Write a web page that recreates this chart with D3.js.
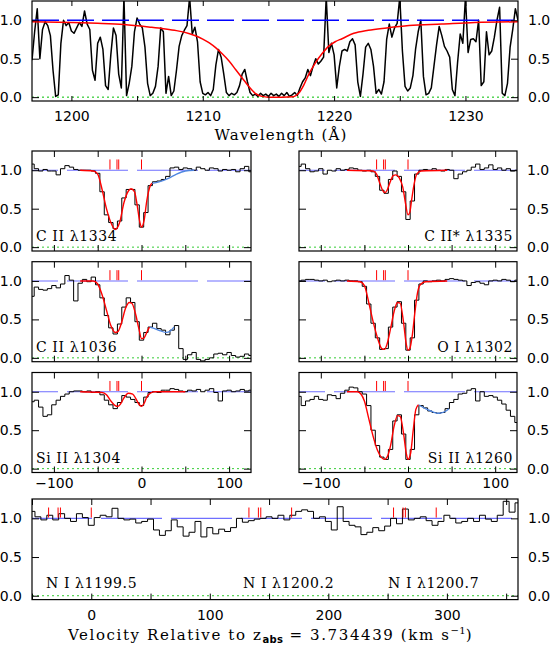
<!DOCTYPE html>
<html>
<head>
<meta charset="utf-8">
<script src="https://cdn.jsdelivr.net/npm/d3@7"></script>
<style>
body { margin: 0; background: #fff; }
</style>
</head>
<body>
<div id="canvas"></div>
<script>
// ---- Lyman alpha region (top panel) ----
var lyaStart = 1197.0, lyaStep = 0.2;
var lyaFlux = [
    0.48, 0.85, 1.15, 0.50, 0.88, 0.98, 0.93, 0.80, 0.35, 0.01,
    0.03, 0.70, 1.00, 0.93, 0.97, 0.86, 0.83, 0.90, 0.97, 0.92,
    1.12, 0.95, 0.88, 0.35, 0.22, 0.70, 0.78, 0.62, 0.15, 0.10,
    0.55, 0.90, 0.80, 0.30, 0.12, 1.30, 0.02, 0.18, 0.40, 0.85,
    1.03, 0.95, 0.90, 0.65, 0.18, 0.02, 0.05, 0.14, 0.40, 0.90,
    0.85, 0.05, 0.27, 0.02, 0.08, 0.35, 0.66, 0.80, 0.87, 0.93,
    1.30, 0.82, 0.91, 0.72, 0.20, 0.05, 0.03, 0.06, 0.02, 0.10,
    0.42, 0.62, 0.52, 0.30, 0.06, 0.02, 0.05, 0.03, 0.06, 0.15,
    0.30, 0.36, 0.20, 0.06, 0.02, 0.04, 0.01, 0.05, 0.02, 0.04,
    0.01, 0.05, 0.02, 0.04, 0.01, 0.05, 0.02, 0.06, 0.01, 0.03,
    0.06, 0.02, 0.12, 0.20, 0.25, 0.36, 0.28, 0.40, 0.50, 0.43,
    0.47, 0.52, 1.30, 0.58, 0.70, 0.55, 0.12, 0.40, 0.60, 0.62,
    0.60, 0.72, 0.76, 0.68, 0.20, 0.01, 0.30, 0.65, 0.70, 0.62,
    0.40, 0.05, 0.10, 0.04, 0.20, 0.75, 0.95, 0.78, 0.90, 0.96,
    1.30, 0.60, 0.14, 0.08, 0.12, 0.28, 0.62, 0.85, 1.00, 0.27,
    0.03, 0.05, 0.12, 0.40, 0.68, 0.92, 0.80, 0.66, 0.60, 0.52,
    0.10, 0.02, 0.45, 0.82, 0.70, 1.30, 0.58, 0.75, 0.76, 0.72,
    1.00, 0.15, 0.20, 0.85, 0.55, 0.60, 0.78, 1.00, 1.17, 0.05,
    0.02, 0.18, 0.65, 0.88, 1.15, 1.00
];
// damped Lya model
var dlaWave = [1197, 1200, 1202, 1204, 1206, 1207, 1208, 1209, 1209.5, 1210, 1210.5, 1211, 1211.5,
    1212, 1212.5, 1213, 1213.5, 1214, 1214.5, 1215, 1216, 1216.9, 1217.3, 1217.7, 1218.05, 1218.55,
    1219.06, 1219.57, 1220.08, 1220.6, 1221.5, 1222.6, 1224, 1225.7, 1228.2, 1230.7, 1234];
var dlaFlux = [0.98, 0.97, 0.96, 0.944, 0.91, 0.89, 0.865, 0.825, 0.795, 0.755, 0.705, 0.64, 0.56,
    0.47, 0.36, 0.25, 0.14, 0.05, 0.01, 0.0, 0.0, 0.005, 0.05, 0.16, 0.29, 0.44,
    0.56, 0.66, 0.72, 0.76, 0.83, 0.87, 0.90, 0.93, 0.95, 0.97, 0.98];
var lyaTicks = [1200, 1205, 1210, 1215, 1220, 1225, 1230];

// ---- metal lines, velocity bins from -125 to 125 km/s ----
var velStart = -125, velStep = 5;
var c2_1334Flux = [
    1.08, 1.02, 0.99, 1.01, 0.99, 0.99, 0.94, 1.02, 1.06, 1.04,
    1.01, 1.00, 1.00, 1.00, 0.99, 0.96, 0.72, 0.42, 0.32, 0.24,
    0.34, 0.64, 0.75, 0.75, 0.55, 0.26, 0.45, 0.80, 0.85, 0.86,
    0.88, 0.92, 1.03, 1.04, 1.01, 1.03, 1.02, 1.00, 1.04, 1.02,
    1.00, 1.03, 1.02, 0.99, 1.01, 1.00, 1.01, 0.98, 1.02, 1.05,
    0.98];
var c2s_1335Flux = [
    1.05, 1.08, 1.02, 0.98, 0.99, 1.02, 0.95, 1.00, 0.99, 1.02,
    1.00, 1.01, 1.03, 1.02, 1.00, 0.99, 1.00, 0.98, 0.92, 0.74,
    0.70, 0.88, 0.99, 0.92, 0.72, 0.36, 0.60, 0.95, 1.00, 1.01,
    1.00, 1.02, 1.00, 0.99, 1.01, 1.00, 0.89, 0.95, 0.98, 1.00,
    1.04, 1.08, 1.01, 1.03, 1.07, 1.01, 1.03, 1.00, 1.02, 0.99,
    1.00];
var c2_1036Flux = [
    0.80, 0.92, 0.89, 0.88, 0.90, 0.94, 0.91, 0.96, 1.07, 1.01,
    0.74, 0.97, 1.02, 0.99, 1.05, 0.95, 0.78, 0.55, 0.39, 0.31,
    0.44, 0.66, 0.78, 0.72, 0.47, 0.23, 0.33, 0.40, 0.45, 0.38,
    0.36, 0.30, 0.36, 0.42, 0.12, -0.02, 0.04, 0.07, -0.02, -0.04,
    -0.02, 0.00, 0.05, 0.06, 0.04, 0.07, 0.03, 0.01, 0.02, 0.05,
    0.03];
var o1_1302Flux = [
    1.00, 1.01, 1.02, 1.02, 1.01, 1.00, 1.01, 0.99, 1.00, 1.01,
    1.00, 1.01, 1.00, 1.00, 0.99, 0.93, 0.70, 0.45, 0.26, 0.11,
    0.12, 0.40, 0.66, 0.73, 0.45, 0.10, 0.26, 0.75, 0.96, 1.00,
    0.99, 1.00, 1.01, 1.00, 1.02, 1.03, 1.02, 1.01, 1.00, 0.94,
    0.98, 0.99, 0.97, 0.95, 1.00, 1.01, 1.00, 1.02, 1.01, 0.99,
    1.01];
var si2_1304Flux = [
    0.87, 0.89, 0.80, 0.68, 0.70, 0.83, 0.89, 0.94, 0.97, 1.00,
    1.01, 1.01, 1.00, 1.01, 0.99, 1.00, 0.96, 0.89, 0.83, 0.78,
    0.86, 0.95, 0.93, 0.90, 0.86, 0.82, 0.93, 0.99, 1.00, 0.99,
    1.02, 1.02, 1.04, 1.03, 1.01, 1.00, 1.02, 1.01, 1.03, 1.00,
    1.02, 1.04, 0.99, 0.88, 1.01, 1.02, 1.00, 1.01, 1.03, 1.01,
    1.02];
var si2_1260Flux = [
    0.94, 0.82, 0.88, 0.90, 0.94, 0.90, 0.89, 0.96, 0.95, 0.91,
    0.98, 1.02, 1.06, 1.05, 1.00, 0.97, 0.82, 0.50, 0.30, 0.15,
    0.12, 0.25, 0.62, 0.70, 0.45, 0.12, 0.25, 0.70, 0.82, 0.79,
    0.75, 0.73, 0.72, 0.73, 0.78, 0.86, 0.90, 0.97, 0.98, 1.02,
    1.04, 0.88, 1.00, 0.94, 0.95, 0.93, 0.89, 0.84, 0.76, 0.68,
    0.60];

// Voigt fits (red) and blends (light blue)
var c2_1334FitV = [-70, -55, -50, -45, -40, -35, -30, -25, -20, -15, -12, -8, -5, -2, 0, 3, 6, 10, 12];
var c2_1334FitF = [1.0, 0.99, 0.95, 0.75, 0.50, 0.32, 0.23, 0.32, 0.58, 0.73, 0.76, 0.72, 0.55, 0.33, 0.26, 0.35, 0.60, 0.80, 0.83];
var c2_1334BlendV = [12, 20, 30, 40, 50, 60];
var c2_1334BlendF = [0.83, 0.85, 0.89, 0.95, 0.99, 1.0];

var c2s_1335FitV = [-70, -40, -36, -32, -28, -26, -24, -20, -17, -14, -10, -6, -3, 0, 2, 4, 7, 10, 15, 45];
var c2s_1335FitF = [1.0, 0.99, 0.95, 0.82, 0.72, 0.71, 0.74, 0.86, 0.93, 0.94, 0.90, 0.78, 0.58, 0.42, 0.45, 0.60, 0.82, 0.95, 0.99, 1.0];

var c2_1036FitV = [-70, -55, -50, -45, -40, -35, -30, -27, -23, -18, -14, -11, -7, -3, 0, 3, 6, 9];
var c2_1036FitF = [1.0, 1.0, 0.96, 0.82, 0.62, 0.42, 0.33, 0.34, 0.45, 0.65, 0.72, 0.71, 0.58, 0.38, 0.25, 0.26, 0.33, 0.40];
var c2_1036BlendV = [9, 15, 22, 28, 33, 37];
var c2_1036BlendF = [0.40, 0.38, 0.35, 0.33, 0.35, 0.40];

var o1_1302FitV = [-70, -55, -50, -45, -40, -35, -30, -27, -24, -20, -16, -12, -9, -5, -2, 0, 2, 5, 8, 11, 14, 20, 45];
var o1_1302FitF = [1.0, 0.99, 0.94, 0.72, 0.47, 0.26, 0.12, 0.11, 0.18, 0.38, 0.60, 0.72, 0.71, 0.45, 0.18, 0.10, 0.12, 0.30, 0.60, 0.85, 0.95, 0.99, 1.0];

var si2_1304FitV = [-70, -45, -40, -35, -30, -27, -24, -20, -15, -10, -6, -3, 0, 3, 6, 10, 15, 50];
var si2_1304FitF = [1.0, 0.99, 0.96, 0.88, 0.82, 0.81, 0.84, 0.92, 0.98, 0.97, 0.90, 0.84, 0.81, 0.85, 0.93, 0.98, 1.0, 1.0];

var si2_1260FitV = [-70, -58, -54, -50, -45, -40, -35, -30, -27, -24, -20, -16, -12, -9, -5, -2, 0, 3, 6, 9, 12];
var si2_1260FitF = [1.0, 1.0, 0.97, 0.88, 0.65, 0.42, 0.24, 0.14, 0.12, 0.15, 0.30, 0.55, 0.69, 0.68, 0.45, 0.20, 0.12, 0.20, 0.50, 0.77, 0.83];
var si2_1260BlendV = [12, 20, 28, 35, 42, 47];
var si2_1260BlendF = [0.83, 0.78, 0.74, 0.72, 0.74, 0.78];

var compVel = [-36, -28, -26, 0];
var velTicks = [-100, -50, 0, 50, 100];
var velLabels = [-100, 0, 100];

// ---- N I triplet, velocity bins from -50 to 360 km/s ----
var niStart = -50;
var niFlux = [
    1.09, 1.02, 0.98, 1.04, 0.98, 1.06, 1.00, 0.96, 1.06, 1.01,
    0.91, 1.01, 1.04, 1.02, 1.13, 1.00, 0.98, 0.99, 0.94, 0.96,
    0.99, 0.85, 0.78, 0.84, 0.98, 0.89, 0.77, 0.82, 0.96, 0.76,
    0.88, 0.80, 0.86, 0.83, 0.88, 1.00, 0.95, 0.97, 0.99, 1.00,
    1.02, 1.00, 1.04, 0.98, 1.04, 1.09, 1.11, 1.09, 1.00, 1.02,
    0.96, 0.85, 1.15, 0.96, 0.91, 0.89, 0.79, 0.82, 0.88, 0.84,
    0.90, 1.00, 0.93, 1.12, 0.98, 1.00, 1.02, 0.97, 0.91, 0.96,
    1.04, 1.00, 0.94, 0.96, 1.00, 0.96, 1.04, 0.99, 0.96, 1.04,
    1.22, 1.08, 1.20];
var niOffsets = [0, 169, 291];
var niLabels = ['N I λ1199.5', 'N I λ1200.2', 'N I λ1200.7'];
var niTicks = [-50, 0, 50, 100, 150, 200, 250, 300, 350];
var niTickLabels = [0, 100, 200, 300];

var fluxDomain = [-0.05, 1.25];
var fluxTicks = [0, 0.5, 1.0];

var svg = d3.select('#canvas').append('svg')
    .attr('width', 551)
    .attr('height', 646)
    .style('background', '#fff');

var clipCount = 0;

function makePanel(xDomain, left, right, top, bottom) {
    var x = d3.scaleLinear().domain(xDomain).range([left, right]);
    var y = d3.scaleLinear().domain(fluxDomain).range([bottom, top]);
    var id = 'clip' + (clipCount++);
    svg.append('clipPath').attr('id', id).append('rect')
        .attr('x', left).attr('y', top)
        .attr('width', right - left).attr('height', bottom - top);
    var g = svg.append('g');
    var inner = g.append('g').attr('clip-path', 'url(#' + id + ')');
    return {x: x, y: y, g: g, inner: inner, left: left, right: right, top: top, bottom: bottom};
}

function hline(p, val, color, width, dash, offset) {
    p.inner.append('line')
        .attr('x1', p.left).attr('x2', p.right)
        .attr('y1', p.y(val)).attr('y2', p.y(val))
        .attr('stroke', color)
        .attr('stroke-width', width)
        .attr('stroke-dasharray', dash)
        .attr('stroke-dashoffset', offset || 0);
}

function curve(p, xs, ys, color, width, type) {
    var line = d3.line()
        .curve(type)
        .x(function(d) { return p.x(d[0]); })
        .y(function(d) { return p.y(d[1]); });
    p.inner.append('path')
        .attr('d', line(xs.map(function(v, i) { return [v, ys[i]]; })))
        .attr('fill', 'none')
        .attr('stroke', color)
        .attr('stroke-width', width)
        .attr('stroke-linejoin', 'round');
}

function frame(p, o) {
    var g = p.g;
    var fmtX = function(d) { return o.xLabels && o.xLabels.indexOf(d) >= 0 ? d3.format('d')(d) : ''; };
    g.append('g').attr('transform', 'translate(0,' + p.bottom + ')')
        .call(d3.axisBottom(p.x).tickValues(o.xTicks).tickSizeInner(-o.xTickLen).tickSizeOuter(0)
            .tickPadding(o.xPad || 8).tickFormat(fmtX));
    g.append('g').attr('transform', 'translate(0,' + p.top + ')')
        .call(d3.axisTop(p.x).tickValues(o.xTicks).tickSizeInner(-o.xTickLen).tickSizeOuter(0).tickFormat(''));
    g.append('g').attr('transform', 'translate(' + p.left + ',0)')
        .call(d3.axisLeft(p.y).tickValues(fluxTicks).tickSizeInner(-7).tickSizeOuter(0).tickPadding(10)
            .tickFormat(o.leftLabels ? d3.format('.1f') : ''));
    g.append('g').attr('transform', 'translate(' + p.right + ',0)')
        .call(d3.axisRight(p.y).tickValues(fluxTicks).tickSizeInner(-7).tickSizeOuter(0).tickPadding(10)
            .tickFormat(o.rightLabels ? d3.format('.1f') : ''));
    g.selectAll('.domain').remove();
    g.selectAll('.tick line').attr('stroke', '#000').attr('stroke-width', 1);
    g.selectAll('.tick text')
        .attr('fill', '#000')
        .attr('font-family', 'DejaVu Sans')
        .attr('font-size', 14);
    g.append('rect')
        .attr('x', p.left).attr('y', p.top)
        .attr('width', p.right - p.left).attr('height', p.bottom - p.top)
        .attr('fill', 'none')
        .attr('stroke', '#000')
        .attr('stroke-width', 1.2);
}

function label(x, y, anchor, txt) {
    svg.append('text')
        .attr('x', x).attr('y', y)
        .attr('text-anchor', anchor)
        .attr('font-family', 'DejaVu Serif')
        .attr('font-size', 14)
        .attr('letter-spacing', 0.6)
        .attr('xml:space', 'preserve')
        .text(txt);
}

function compTicks(p, vels) {
    p.inner.selectAll(null)
        .data(vels)
        .enter()
        .append('line')
        .attr('x1', function(d) { return p.x(d); })
        .attr('x2', function(d) { return p.x(d); })
        .attr('y1', p.y(1.01))
        .attr('y2', p.y(1.14))
        .attr('stroke', '#ff0000')
        .attr('stroke-width', 1);
}

// ---- top panel ----
var lyaPanel = makePanel([1197, 1234], 32, 518, 1, 101);
hline(lyaPanel, 0, '#00c000', 1, '2,3');
curve(lyaPanel, lyaFlux.map(function(d, i) { return lyaStart + i * lyaStep; }), lyaFlux, '#000', 1.5, d3.curveLinear);
hline(lyaPanel, 1, '#0000ff', 1.5, '27,8', 0);
curve(lyaPanel, dlaWave, dlaFlux, '#ff0000', 1.5, d3.curveMonotoneX);
frame(lyaPanel, {xTicks: lyaTicks, xLabels: [1200, 1210, 1220, 1230], xTickLen: 5, xPad: 10, leftLabels: true, rightLabels: true});
svg.append('text')
    .attr('x', 281).attr('y', 140)
    .attr('text-anchor', 'middle')
    .attr('font-family', 'DejaVu Serif')
    .attr('font-size', 15)
    .attr('letter-spacing', 1.2)
    .text('Wavelength (Å)');

// ---- velocity panels ----
var cols = [[32, 251], [299, 517]];
var rows = [[151, 251], [261.7, 361.7], [372.5, 472.5]];
var velPanels = [
    {label: 'C II λ1334', flux: c2_1334Flux, fitV: c2_1334FitV, fitF: c2_1334FitF, blendV: c2_1334BlendV, blendF: c2_1334BlendF, col: 0, row: 0},
    {label: 'C II* λ1335', flux: c2s_1335Flux, fitV: c2s_1335FitV, fitF: c2s_1335FitF, col: 1, row: 0},
    {label: 'C II λ1036', flux: c2_1036Flux, fitV: c2_1036FitV, fitF: c2_1036FitF, blendV: c2_1036BlendV, blendF: c2_1036BlendF, col: 0, row: 1},
    {label: 'O I λ1302', flux: o1_1302Flux, fitV: o1_1302FitV, fitF: o1_1302FitF, col: 1, row: 1},
    {label: 'Si II λ1304', flux: si2_1304Flux, fitV: si2_1304FitV, fitF: si2_1304FitF, col: 0, row: 2},
    {label: 'Si II λ1260', flux: si2_1260Flux, fitV: si2_1260FitV, fitF: si2_1260FitF, blendV: si2_1260BlendV, blendF: si2_1260BlendF, col: 1, row: 2}
];

velPanels.forEach(function(d) {
    var c = cols[d.col], r = rows[d.row];
    var p = makePanel([-125, 125], c[0], c[1], r[0], r[1]);
    var vels = d.flux.map(function(f, i) { return velStart + i * velStep; });
    hline(p, 0, '#33cc33', 1, '2,3');
    hline(p, 1, '#6f6fff', 1.1, '61,9', 35);
    curve(p, vels, d.flux, '#000', 1, d3.curveStep);
    if (d.blendV) curve(p, d.blendV, d.blendF, '#4f86e0', 1.3, d3.curveMonotoneX);
    curve(p, d.fitV, d.fitF, '#ff0000', 1.4, d3.curveMonotoneX);
    compTicks(p, compVel);
    frame(p, {xTicks: velTicks, xLabels: d.row === 2 ? velLabels : null, xTickLen: 6, xPad: 6,
        leftLabels: d.col === 0, rightLabels: d.col === 1});
    if (d.col === 0) label(c[0] + 4, r[1] - 10, 'start', d.label);
    else label(c[1] - 4, r[1] - 10, 'end', d.label);
});

// ---- N I panel ----
var ni = makePanel([-50, 360], 32, 518, 499, 599.6);
hline(ni, 0, '#33cc33', 1, '2,3');
hline(ni, 1, '#6f6fff', 1.1, '61,9', 1);
curve(ni, niFlux.map(function(f, i) { return niStart + i * velStep; }), niFlux, '#000', 1, d3.curveStep);
niOffsets.forEach(function(off) {
    compTicks(ni, compVel.map(function(v) { return v + off; }));
});
frame(ni, {xTicks: niTicks, xLabels: niTickLabels, xTickLen: 6, xPad: 10, leftLabels: true, rightLabels: true});
var niLabelX = [46, 243, 388];
niLabels.forEach(function(t, i) { label(niLabelX[i], 588, 'start', t); });

var title = svg.append('text')
    .attr('x', 68).attr('y', 640)
    .attr('font-family', 'DejaVu Serif')
    .attr('font-size', 15)
    .attr('letter-spacing', 1.6)
    .attr('xml:space', 'preserve');
title.append('tspan').text('Velocity Relative to z');
title.append('tspan').attr('font-size', 10).attr('font-family', 'DejaVu Sans').attr('font-weight', 'bold')
    .attr('letter-spacing', 0.3).attr('dy', 3).text('abs');
title.append('tspan').attr('dy', -3).text(' = 3.734439 (km s');
title.append('tspan').attr('font-size', 10).attr('dy', -6).attr('letter-spacing', 0.3).text('−1');
title.append('tspan').attr('dy', 6).text(')');
</script>
</body>
</html>
